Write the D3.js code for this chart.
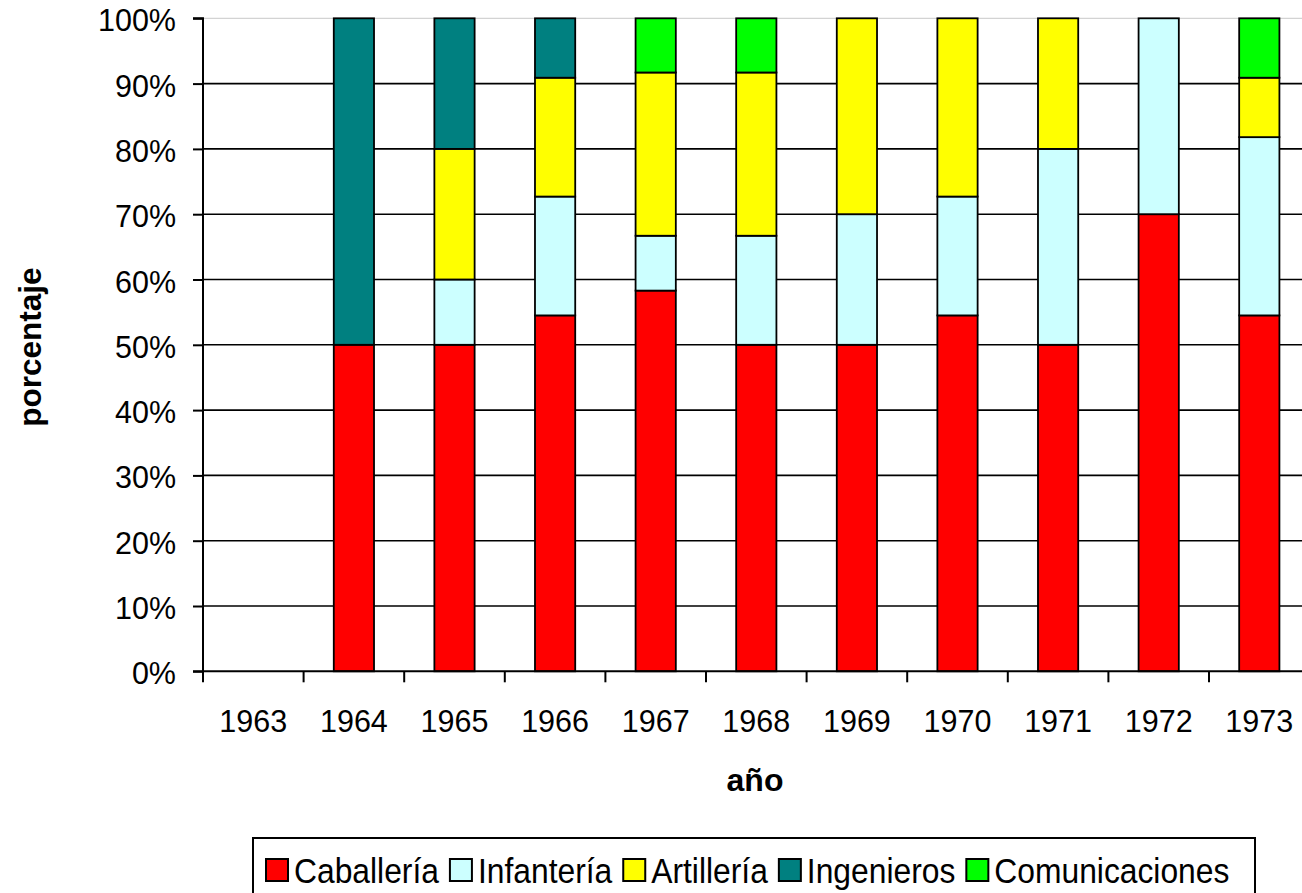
<!DOCTYPE html>
<html>
<head>
<meta charset="utf-8">
<style>
    body { margin: 0; background: #fff; }
    svg { font-family: "Liberation Sans", Arial, sans-serif; }
</style>
</head>
<body>
<svg id="chart" width="1302" height="893"></svg>
<script src="https://cdnjs.cloudflare.com/ajax/libs/d3/7.8.5/d3.min.js"></script>
<script>
// data (percent of each year)
var years = ["1963", "1964", "1965", "1966", "1967", "1968", "1969", "1970", "1971", "1972", "1973"];
var caballeria     = [0, 50, 50, 54.5, 58.3, 50,   50, 54.5, 50, 70, 54.5];
var infanteria     = [0,  0, 10, 18.2,  8.4, 16.7, 20, 18.2, 30, 30, 27.3];
var artilleria     = [0,  0, 20, 18.2, 25,   25,   30, 27.3, 20,  0,  9.1];
var ingenieros     = [0, 50, 20,  9.1,  0,    0,    0,  0,    0,  0,  0];
var comunicaciones = [0,  0,  0,  0,    8.3,  8.3,  0,  0,    0,  0,  9.1];
var yTicks = [0, 10, 20, 30, 40, 50, 60, 70, 80, 90, 100];

var seriesNames = ["Caballería", "Infantería", "Artillería", "Ingenieros", "Comunicaciones"];
var seriesValues = [caballeria, infanteria, artilleria, ingenieros, comunicaciones];
var colors = ["#ff0000", "#ccffff", "#ffff00", "#008080", "#00ff00"];

var rows = years.map(function(y, i) {
    var r = {year: y};
    seriesNames.forEach(function(s, j) { r[s] = seriesValues[j][i]; });
    return r;
});

var svg = d3.select("#chart");
var plotLeft = 203, plotRight = 1309.6, plotTop = 18.3, plotBottom = 671.3;

var x = d3.scaleBand().domain(years).range([plotLeft, plotRight]).padding(0);
var y = d3.scaleLinear().domain([0, 100]).range([plotBottom, plotTop]);
var barW = x.bandwidth() * 0.4;

// gridlines
svg.append("g").selectAll("line")
    .data(yTicks.filter(function(d) { return d > 0; }))
    .enter().append("line")
    .attr("x1", plotLeft).attr("x2", 1302)
    .attr("y1", function(d) { return y(d); })
    .attr("y2", function(d) { return y(d); })
    .attr("stroke", function(d) { return d == 100 ? "#c8c8c8" : "#000"; })
    .attr("stroke-width", function(d) { return d == 100 ? 1 : 1.6; });

// stacked bars
var stack = d3.stack().keys(seriesNames);
var layers = stack(rows);

svg.append("g").selectAll("g")
    .data(layers)
    .enter().append("g")
    .attr("fill", function(d, i) { return colors[i]; })
    .selectAll("rect")
    .data(function(d) { return d.filter(function(p) { return p[1] - p[0] > 0; }); })
    .enter().append("rect")
    .attr("x", function(d) { return x(d.data.year) + (x.bandwidth() - barW) / 2; })
    .attr("width", barW)
    .attr("y", function(d) { return y(d[1]); })
    .attr("height", function(d) { return y(d[0]) - y(d[1]); })
    .attr("stroke", "#000")
    .attr("stroke-width", 1.8);

// y axis
var yAxis = d3.axisLeft(y).tickValues(yTicks).tickSize(10).tickPadding(17)
    .tickFormat(function(d) { return d + "%"; });
var yg = svg.append("g").attr("transform", "translate(" + plotLeft + ",0)").call(yAxis);
yg.select(".domain").attr("stroke-width", 2).attr("d", "M-10," + plotTop + "H0V" + plotBottom + "H-10");
yg.selectAll(".tick line").attr("stroke-width", 2);
yg.selectAll("text").attr("font-size", 30.5).attr("font-family", "Liberation Sans, Arial, sans-serif")
    .attr("fill", "#000").attr("dy", "0.41em");

// x axis: ticks at category boundaries
var xg = svg.append("g").attr("transform", "translate(0," + plotBottom + ")");
xg.append("line").attr("x1", plotLeft).attr("x2", 1302).attr("y1", 0).attr("y2", 0)
    .attr("stroke", "#000").attr("stroke-width", 2);
xg.selectAll("line.tk")
    .data(years)
    .enter().append("line").attr("class", "tk")
    .attr("x1", function(d) { return x(d); }).attr("x2", function(d) { return x(d); })
    .attr("y1", 0).attr("y2", 11)
    .attr("stroke", "#000").attr("stroke-width", 2);
xg.selectAll("text")
    .data(years)
    .enter().append("text")
    .attr("x", function(d) { return x(d) + x.bandwidth() / 2; })
    .attr("y", 61)
    .attr("text-anchor", "middle")
    .attr("font-size", 30.5)
    .text(function(d) { return d; });

// axis titles
svg.append("text")
    .attr("x", 755).attr("y", 791)
    .attr("text-anchor", "middle")
    .attr("font-size", 32).attr("font-weight", "bold")
    .text("año");
svg.append("text")
    .attr("transform", "translate(41,347) rotate(-90)")
    .attr("text-anchor", "middle")
    .attr("font-size", 31.5).attr("font-weight", "bold")
    .text("porcentaje");

// legend
var legend = svg.append("g");
legend.append("rect")
    .attr("x", 253).attr("y", 838).attr("width", 1002).attr("height", 70)
    .attr("fill", "#fff").attr("stroke", "#000").attr("stroke-width", 2);
var lx = 266;
seriesNames.forEach(function(s, i) {
    legend.append("rect")
        .attr("x", lx).attr("y", 859).attr("width", 22).attr("height", 22)
        .attr("fill", colors[i]).attr("stroke", "#000").attr("stroke-width", 2);
    // the reference text is a little taller than wide
    var t = legend.append("text")
        .attr("transform", "translate(" + (lx + 28) + ",883) scale(1,1.13)")
        .attr("font-size", 31.8)
        .text(s);
    lx = lx + 28 + t.node().getComputedTextLength() + 11;
});
</script>
</body>
</html>
